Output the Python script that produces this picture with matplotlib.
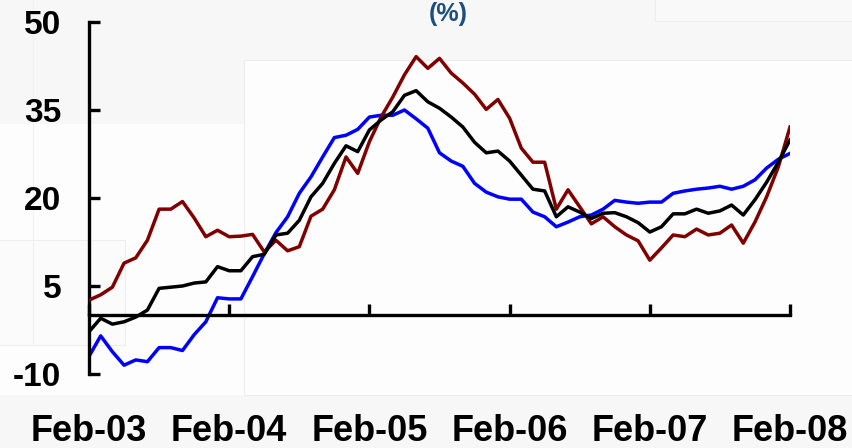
import matplotlib
matplotlib.use("Agg")
import matplotlib.pyplot as plt
from matplotlib.patches import Rectangle
import numpy as np

# ---------------- data (monthly, Feb-03 .. Feb-08) ----------------
tick_labels = ["Feb-03", "Feb-04", "Feb-05", "Feb-06", "Feb-07", "Feb-08"]
y_ticks = [-10, 5, 20, 35, 50]

red_series = [2.6, 3.5, 4.8, 8.9, 9.8, 12.8, 18.1, 18.1, 19.4, 16.6,
              13.4, 14.5, 13.4, 13.5, 13.8, 10.8, 12.8, 11.0, 11.7, 16.9,
              18.1, 21.4, 27.0, 24.2, 29.6, 33.8, 37.2, 41.0, 44.1, 42.1,
              43.8, 41.3, 39.6, 37.7, 35.1, 36.8, 33.6, 28.5, 26.1, 26.1,
              18.1, 21.4, 18.5, 15.6, 16.8, 15.1, 13.7, 12.7, 9.4, 11.5,
              13.7, 13.4, 14.7, 13.7, 14.0, 15.4, 12.3, 15.9, 20.2, 25.3,
              32.1]
black_series = [-2.8, -0.5, -1.5, -1.1, -0.3, 0.9, 4.6, 4.8, 5.0, 5.5,
                5.7, 8.3, 7.6, 7.6, 10.0, 10.4, 13.7, 14.0, 16.2, 20.2,
                22.5, 25.9, 28.9, 27.9, 31.6, 33.3, 34.7, 37.5, 38.3, 36.4,
                35.3, 33.8, 32.1, 29.5, 27.7, 28.0, 26.3, 23.9, 21.5, 21.2,
                16.8, 18.5, 17.6, 16.5, 17.4, 17.5, 16.8, 15.8, 14.2, 15.1,
                17.3, 17.3, 18.1, 17.4, 17.8, 18.8, 17.1, 19.7, 22.7, 26.1,
                29.9]
blue_series = [-7.0, -3.5, -6.2, -8.5, -7.6, -7.9, -5.5, -5.5, -6.0, -3.3,
               -1.1, 3.0, 2.8, 2.8, 6.6, 10.5, 14.1, 16.8, 20.8, 23.6,
               27.0, 30.3, 30.7, 31.7, 33.8, 34.1, 34.1, 35.0, 33.5, 31.9,
               27.7, 26.3, 25.4, 22.5, 21.0, 20.2, 19.8, 19.8, 17.6, 16.8,
               15.1, 15.9, 16.8, 17.1, 18.1, 19.6, 19.3, 19.1, 19.3, 19.3,
               20.8, 21.2, 21.5, 21.7, 22.0, 21.5, 22.0, 23.1, 25.1, 26.6,
               27.6]

months = np.arange(len(red_series))
tick_pos = np.arange(0, len(red_series), 12)

# ---------------- figure ----------------
W, H = 852, 448
fig = plt.figure(figsize=(W / 100, H / 100), dpi=100)
fig.patch.set_facecolor("#F7F7F7")

# background axes for faint slide artefacts
bg = fig.add_axes([0, 0, 1, 1], zorder=-5)
bg.set_xlim(0, W)
bg.set_ylim(H, 0)
bg.axis("off")

def px_rect(x0, y0, x1, y1, fc, ec="none", lw=0.8):
    bg.add_patch(Rectangle((x0, y0), x1 - x0, y1 - y0, facecolor=fc,
                           edgecolor=ec, linewidth=lw))

px_rect(244, 60, 860, 395, "#FDFDFD", "#EDEDED")
px_rect(-5, 124, 244, 395, "#FDFDFD", "none")
px_rect(-5, 240, 125, 345, "#FBFBFB", "#EEEEEE")
px_rect(655, -5, 860, 21, "#F9F9F9", "#EDEDED")
bg.plot([33, 33], [0, 343], color="#F0F0F0", lw=0.8)

left, right = 89 / W, 790 / W
bottom, top = 1 - 374 / H, 1 - 22 / H
ax = fig.add_axes([left, bottom, right - left, top - bottom], zorder=2)
ax.set_facecolor("none")

lw = 2.5
ax.plot(months, red_series, color="#800000", lw=lw, zorder=3)
ax.plot(months, black_series, color="#000000", lw=lw, zorder=4)
ax.plot(months, blue_series, color="#0000FF", lw=lw, zorder=2)

ax.set_xlim(0, len(red_series) - 1)
ax.set_ylim(-10, 50)

for s in ["top", "right"]:
    ax.spines[s].set_visible(False)
ax.spines["left"].set_linewidth(2.4)
ax.spines["bottom"].set_linewidth(2.4)
ax.spines["bottom"].set_position(("data", 0))

ax.set_yticks(y_ticks)
ax.set_yticklabels([str(v) for v in y_ticks])
ax.set_xticks(tick_pos)
ax.set_xticklabels(tick_labels)

ax.tick_params(axis="y", direction="in", length=8, width=2.4, pad=20,
               labelsize=24)
ax.tick_params(axis="x", direction="in", length=8, width=2.4, pad=71,
               labelsize=26)
for lab in ax.get_yticklabels() + ax.get_xticklabels():
    lab.set_fontfamily("Liberation Sans")
    lab.set_fontweight("bold")

fig.text(448 / W, 1 - 14 / H, "(%)", ha="center", va="center",
         color="#1B4F7F", fontsize=18, fontweight="bold",
         family="Liberation Sans")

fig.savefig("out.png", dpi=100, facecolor=fig.get_facecolor())
